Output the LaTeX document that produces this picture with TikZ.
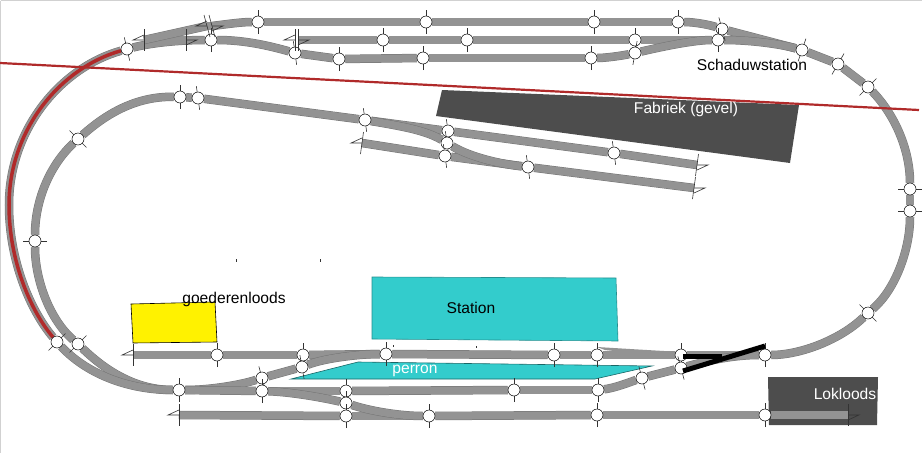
\documentclass[tikz,border=0pt]{standalone}
\usepackage{fontspec}
\setmainfont{Liberation Sans}
\usetikzlibrary{backgrounds}
\definecolor{trackgray}{HTML}{939393}
\definecolor{trackedge}{HTML}{757575}
\definecolor{stationcyan}{HTML}{33CCCC}
\definecolor{shedgray}{HTML}{4D4D4D}
\definecolor{redline}{HTML}{B02A2A}
\tikzset{
  joint/.style={circle,draw=black,fill=white,line width=0.5pt,minimum size=12pt,inner sep=0pt},
  crossmark/.style={line width=0.6pt,black!80},
  track/.style={draw=trackedge,line width=0.5pt,double=trackgray,double distance=7.5pt},
  building/.style={draw=black,line width=0.6pt},
  label/.style={font=\fontsize{15.6}{18}\selectfont,inner sep=0pt}
}
\begin{document}
\begin{tikzpicture}[x=1pt,y=-1pt]
\useasboundingbox (0,0) rectangle (922,453);
\draw[black!18,line width=1pt] (0.5,0.5)--(0.5,453) (0.5,0.5)--(922,0.5);
% Joints
\foreach \n/\x/\y/\a in {a1/127/49/77,b1/211/40/90,t1/258/22/90,t2/426/22/90,t3/594/22/90,t4/678/22/90,
  t5/722/29/75,m1/383/40/90,m2/467/40/90,m3/635/40/90,m4/718/40/90,s1/295/53/82,s2/339/59/90,s3/423/58/90,
  s4/591/58/90,s5/635/53/100,j1/802/50/109,k1/838/64/120,l1/868/87/135,r1/910/189/0,r2/910/211/0,
  r3/868/313/45,u1/765/355/90,i1/180/97/90,i2/198/98/82,i3/78/139/45,i4/35/241/0,i5/78/344/-45,w1/57/342/-45,
  v1/179/390/90,h1/217/355/90,h2/303/355/90,h3/386/354/90,h4/554/355/90,h5/597/355/90,h6/681/355/90,
  g1/302/367/80,c1/262/378/75,c2/262/391/90,d1/346/391/90,d2/346/403/90,d3/346/416/90,d4/429/416/90,
  f1/514/390/90,f2/598/390/90,f3/642/378/75,f4/681/368/75,n1/597/415/90,n2/765/415/90,
  p1/365/120/82,p2/448/131/82,p3/447/143/82,p4/445/156/82,p5/528/167/82,p6/614/153/82}{
  \draw[crossmark] (\x,\y) ++(\a:12) -- ++(\a+180:24);
  \node[joint] (\n) at (\x,\y) {};
}
% Track ends
\foreach \n/\x/\y/\s/\t in {e1/144/40/-1/0,e2/186/40/1/0,e3/207/26/-1/3,e4/212/26/1/3,e5/295/40/-1/0,e6/298/40/1/0,
  e7/362/143/-1/-1.5,e8/697/165/1/-1.5,e9/694/188/1/-1.5,e10/133/355/-1/0,e11/179/415/-1/0,e12/848/415/1/0}{
  \coordinate (\n) at (\x,\y);
  \draw[crossmark] (\x-\t,\y-11)--(\x+\t,\y+11);
  \draw[crossmark] (\x,\y+\s*5)--(\x+\s*11,\y)--(\x,\y);
}
\begin{scope}[on background layer]
%BUILDINGS
\draw[building,fill=yellow] (131,304)--(215,302)--(217,342)--(133,343)--cycle;
\draw[building,stationcyan!70!black,fill=stationcyan] (372,277)--(616,278)--(618,341)--(372,339)--cycle;
\draw[building,stationcyan!50!black,fill=stationcyan] (291,379)--(358,362)--(652,366)--(595,379)--cycle;
\fill[shedgray] (442,90)--(799,105)--(790,163)--(436,116)--cycle;
\fill[shedgray] (768,377)--(878,377)--(877,425)--(769,425)--cycle;
%TOP
\draw[track] (a1) .. controls (155,42) and (185,40) .. (b1);
\draw[track] (e1)--(e2);
\draw[track] (e1)--(e3);
\draw[track] (e4) .. controls (228,24) and (242,22) .. (t1);
\draw[track] (e3)--(e4);
\draw[track] (t1)--(t2);
\draw[track] (t2)--(t3);
\draw[track] (t3)--(t4);
\draw[track] (t4) .. controls (695,22) and (710,25) .. (t5);
\draw[track] (t5)--(j1);
\draw[track] (e6)--(m1);
\draw[track] (m1)--(m2);
\draw[track] (m2)--(m3);
\draw[track] (m3)--(m4);
\draw[track] (m4) .. controls (750,40) and (780,44) .. (j1);
\draw[track] (b1) .. controls (245,40) and (270,46) .. (s1);
\draw[track] (s1)--(s2);
\draw[track] (s2)--(s3);
\draw[track] (s3)--(s4);
\draw[track] (s4) .. controls (605,58) and (620,56) .. (s5);
\draw[track] (s5) .. controls (665,46) and (695,40) .. (m4);
%RIGHT
\draw[track] (j1)--(k1);
\draw[track] (k1)--(l1);
\draw[track] (l1) .. controls (895,115) and (910,150) .. (r1);
\draw[track] (r1)--(r2);
\draw[track] (r2) .. controls (910,250) and (895,290) .. (r3);
\draw[track] (r3) .. controls (840,340) and (800,355) .. (u1);
%LEFT
\coordinate (w0) at (9,205);
\draw[track] (a1) .. controls (60,68) and (9,130) .. (w0) .. controls (9,260) and (30,310) .. (w1);
\draw[redline,line width=3.5pt] (a1) .. controls (60,68) and (9,130) .. (w0) .. controls (9,260) and (30,310) .. (w1);
\draw[track] (i1)--(i2);
\draw[track] (i1) .. controls (135,96) and (105,115) .. (i3);
\draw[track] (i3) .. controls (50,165) and (35,200) .. (i4);
\draw[track] (i4) .. controls (35,280) and (50,320) .. (i5);
\draw[track] (i5) .. controls (110,375) and (140,390) .. (v1);
\draw[track] (w1) .. controls (85,372) and (125,390) .. (v1);
%FACTORY
\draw[track] (i2)--(p1);
\draw[track] (p1)--(p2);
\draw[track] (p2)--(p6);
\draw[track] (p6)--(e8);
\draw[track] (e7)--(p4);
\draw[track] (p4)--(p5);
\draw[track] (p5)--(e9);
\draw[track] (p1) .. controls (400,126) and (425,130) .. (p3);
\draw[track] (p3) .. controls (470,157) and (500,164) .. (p5);
%BOT
\draw[track] (e10)--(h1);
\draw[track] (h1)--(h2);
\draw[track] (h2)--(h3);
\draw[track] (h3)--(h4);
\draw[track] (h4)--(h5);
\draw[track] (h5)--(h6);
\draw[track] (h6)--(u1);
\draw[track] (v1) .. controls (210,390) and (240,385) .. (c1);
\draw[track] (c1)--(g1);
\draw[track] (g1) .. controls (325,358) and (360,354) .. (h3);
\draw[track] (v1)--(c2);
\draw[track] (c2)--(d1);
\draw[track] (d1)--(f1);
\draw[track] (f1)--(f2);
\draw[track] (f2) .. controls (615,388) and (630,382) .. (f3);
\draw[track] (f3)--(f4);
\draw[track] (f4) .. controls (710,360) and (735,355) .. (u1);
\draw[track] (e11)--(d3);
\draw[track] (d3)--(d4);
\draw[track] (d4)--(n1);
\draw[track] (n1)--(n2);
\draw[track] (n2)--(e12);
\draw[track] (c2) .. controls (290,392) and (320,397) .. (d2);
\draw[track] (d2) .. controls (370,411) and (400,416) .. (d4);
\fill[trackgray] (597,347)--(630,349)--(681,352)--(681,358)--(640,354)--(605,350)--cycle;
\end{scope}
% Frontier
\coordinate (rl) at (0,63);
\coordinate (rr) at (919,110);
\draw[redline,line width=2.2pt] (rl)--(rr);
\draw[black,line width=5pt] (683,356)--(722,356);
\draw[black,line width=5pt] (683,371)--(765,346);
\node[label,anchor=center] (schaduw) at (752,65) {Schaduwstation};
\node[label,white,anchor=center] (fabriek) at (686,109) {Fabriek (gevel)};
\node[label,anchor=center] (goederen) at (234,299) {goederenloods};
\node[label,anchor=center] (station) at (471,308) {Station};
\node[label,white,anchor=center] (perron) at (415,371) {perron};
\node[label,white,anchor=center] (lok) at (845,394) {Lokloods};
% Stray marks
\draw[crossmark] (236,259)--(236,262) (320,259)--(320,262) (393,345)--(393,347) (476,346)--(476,348);
\end{tikzpicture}
\end{document}
